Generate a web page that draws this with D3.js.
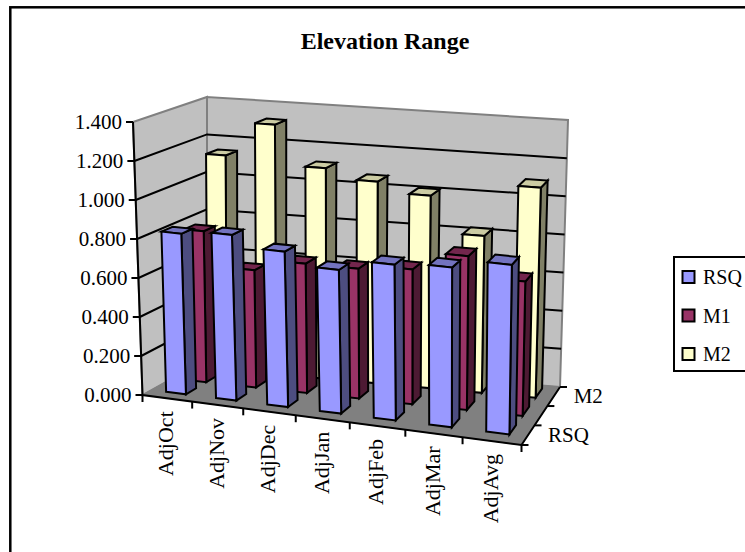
<!DOCTYPE html>
<html>
<head>
<meta charset="utf-8">
<style>
  html, body { margin: 0; padding: 0; background: #fff; }
  svg { display: block; }
  text { font-family: "Liberation Serif", serif; fill: #000; }
</style>
<script src="https://cdn.jsdelivr.net/npm/d3@7"></script>
</head>
<body>
<div id="grafico"></div>
<script>
const categorias = ['AdjOct', 'AdjNov', 'AdjDec', 'AdjJan', 'AdjFeb', 'AdjMar', 'AdjAvg'];
const series = ['RSQ', 'M1', 'M2'];
const marcas_valor = [0, 0.2, 0.4, 0.6, 0.8, 1.0, 1.2, 1.4];
const valores_rsq = [0.825, 0.847, 0.791, 0.728, 0.786, 0.803, 0.849];
const valores_m1 = [0.786, 0.608, 0.668, 0.668, 0.691, 0.786, 0.684];
const valores_m2 = [1.132, 1.314, 1.105, 1.055, 1.003, 0.815, 1.088];
const valores = { RSQ: valores_rsq, M1: valores_m1, M2: valores_m2 };
const cores = {
    RSQ: { frente: '#9999FF', lado: '#4D4D80', topo: '#7373BF' },
    M1: { frente: '#993366', lado: '#4D1A33', topo: '#73264D' },
    M2: { frente: '#FFFFCC', lado: '#808066', topo: '#CCCCA3' }
};

// Configurações do gráfico
const largura = 745, altura = 552;
const svg = d3.select('#grafico').append('svg').attr('width', largura).attr('height', altura);

// Cantos da caixa 3D na tela: frente-esquerda, frente-direita, fundo-direita, fundo-esquerda
const chao = [[142.5, 395], [521.5, 445], [560, 387], [207, 359]];
const teto = [[133, 122], [526, 163], [568, 120], [207, 97]];

// Homografia do quadrado unitário para um quadrilátero
function homografia(q) {
    const [p0, p1, p2, p3] = q;
    const dx1 = p1[0] - p2[0], dx2 = p3[0] - p2[0], sx = p0[0] - p1[0] + p2[0] - p3[0];
    const dy1 = p1[1] - p2[1], dy2 = p3[1] - p2[1], sy = p0[1] - p1[1] + p2[1] - p3[1];
    const det = dx1 * dy2 - dx2 * dy1;
    const g = (sx * dy2 - dx2 * sy) / det;
    const h = (dx1 * sy - sx * dy1) / det;
    const a = p1[0] - p0[0] + g * p1[0], b = p3[0] - p0[0] + h * p3[0], c = p0[0];
    const d = p1[1] - p0[1] + g * p1[1], e = p3[1] - p0[1] + h * p3[1], f = p0[1];
    return (u, v) => {
        const w = g * u + h * v + 1;
        return [(a * u + b * v + c) / w, (d * u + e * v + f) / w];
    };
}
const h_chao = homografia(chao);
const h_teto = homografia(teto);

// Correção da perspectiva ao longo de cada eixo do chão
const corrige = (t, k) => k * t / (1 + (k - 1) * t);
const K_U = 1.344, K_V = 0.88;

// Escalas: categoria -> u, série -> v, valor -> altura relativa
const escala_u = d3.scaleBand().domain(categorias).range([0, 1]).paddingInner(0.6).paddingOuter(0.3);
const escala_v = d3.scaleBand().domain(series).range([0.06, 1.03]).paddingInner(0.5).paddingOuter(0.25);
const escala_w = d3.scaleLinear().domain([0, 1.4]).range([0, 1]);

function projeta(t, s, w) {
    const u = corrige(t, K_U), v = corrige(s, K_V);
    const a = h_chao(u, v), b = h_teto(u, v);
    return [a[0] + (b[0] - a[0]) * w, a[1] + (b[1] - a[1]) * w];
}
const linha = d3.line();
const poligono = pts => linha(pts) + 'Z';

// Moldura externa
svg.append('rect').attr('x', 10.3).attr('y', 7.3).attr('width', 760).attr('height', 600)
    .attr('fill', '#fff').attr('stroke', '#000').attr('stroke-width', 2.5);

// Título
svg.append('text').attr('x', 385).attr('y', 49).attr('text-anchor', 'middle')
    .style('font-size', '24px').style('font-weight', 'bold').text('Elevation Range');

const paredes = svg.append('g');
// Parede do fundo, parede esquerda e chão
paredes.append('path').attr('d', poligono([projeta(0, 1, 0), projeta(1, 1, 0), projeta(1, 1, 1), projeta(0, 1, 1)]))
    .attr('fill', '#C0C0C0').attr('stroke', '#808080').attr('stroke-width', 2);
paredes.append('path').attr('d', poligono([projeta(0, 0, 0), projeta(0, 1, 0), projeta(0, 1, 1), projeta(0, 0, 1)]))
    .attr('fill', '#C0C0C0').attr('stroke', '#808080').attr('stroke-width', 2);
paredes.append('path').attr('d', poligono([projeta(0, 0, 0), projeta(1, 0, 0), projeta(1, 1, 0), projeta(0, 1, 0)]))
    .attr('fill', '#808080').attr('stroke', '#808080');

// Linhas de grade
marcas_valor.slice(1, -1).forEach(m => {
    const w = escala_w(m);
    paredes.append('path').attr('d', linha([projeta(0, 0, w), projeta(0, 1, w), projeta(1, 1, w)]))
        .attr('fill', 'none').attr('stroke', '#000').attr('stroke-width', 2);
});

// Eixos
const eixos = svg.append('g').attr('stroke', '#000').attr('stroke-width', 2).attr('fill', 'none');
eixos.append('path').attr('d', linha([projeta(0, 0, 1), projeta(0, 0, 0), projeta(1, 0, 0), projeta(1, 1, 0)]));
marcas_valor.forEach(m => {
    const p = projeta(0, 0, escala_w(m));
    eixos.append('path').attr('d', linha([[p[0] - 7, p[1]], p]));
    svg.append('text').attr('x', p[0] - 11).attr('y', p[1] + 7).attr('text-anchor', 'end')
        .style('font-size', '21px').text(m.toFixed(3));
});
// Marcas do eixo das categorias
d3.range(categorias.length + 1).forEach(i => {
    const p = projeta(i / categorias.length, 0, 0);
    eixos.append('path').attr('d', linha([p, [p[0], p[1] + 7]]));
});
categorias.forEach((c, i) => {
    const p = projeta((i + 0.5) / categorias.length, 0, 0);
    svg.append('text').attr('transform', `translate(${p[0] + 6},${p[1] + 13}) rotate(-90)`)
        .attr('text-anchor', 'end').style('font-size', '22px').text(c);
});
// Marcas do eixo das séries
d3.range(series.length + 1).forEach(i => {
    const p = projeta(1, i / series.length, 0);
    eixos.append('path').attr('d', linha([p, [p[0] + 7, p[1]]]));
});
[['RSQ', 0.5 / 3], ['M2', 2.5 / 3]].forEach(([s, v]) => {
    const p = projeta(1, v, 0);
    svg.append('text').attr('x', p[0] + 20).attr('y', p[1] + 7)
        .style('font-size', '21px').text(s);
});

// Barras, de trás para frente
const barras = svg.append('g').attr('stroke', '#000').attr('stroke-width', 2).attr('stroke-linejoin', 'miter');
[...series].reverse().forEach(s => {
    const v0 = escala_v(s), v1 = v0 + escala_v.bandwidth();
    categorias.forEach((c, i) => {
        const u0 = escala_u(c), u1 = u0 + escala_u.bandwidth();
        const w = escala_w(valores[s][i]);
        const g = barras.append('g');
        g.append('path').attr('fill', cores[s].lado)
            .attr('d', poligono([projeta(u1, v0, 0), projeta(u1, v1, 0), projeta(u1, v1, w), projeta(u1, v0, w)]));
        g.append('path').attr('fill', cores[s].topo)
            .attr('d', poligono([projeta(u0, v0, w), projeta(u1, v0, w), projeta(u1, v1, w), projeta(u0, v1, w)]));
        g.append('path').attr('fill', cores[s].frente)
            .attr('d', poligono([projeta(u0, v0, 0), projeta(u1, v0, 0), projeta(u1, v0, w), projeta(u0, v0, w)]));
    });
});

// Legenda
svg.append('rect').attr('x', 674).attr('y', 257).attr('width', 100).attr('height', 114)
    .attr('fill', '#fff').attr('stroke', '#000').attr('stroke-width', 2);
series.forEach((s, i) => {
    const y = 277 + i * 38.5;
    svg.append('rect').attr('x', 682.5).attr('y', y - 6).attr('width', 12).attr('height', 12)
        .attr('fill', cores[s].frente).attr('stroke', '#000').attr('stroke-width', 2);
    svg.append('text').attr('x', 703).attr('y', y + 7).style('font-size', '20px').text(s);
});
</script>
</body>
</html>
